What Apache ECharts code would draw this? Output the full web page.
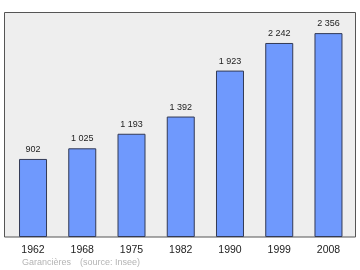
<!DOCTYPE html>
<html><head><meta charset="utf-8">
<script src="https://cdn.jsdelivr.net/npm/echarts@6/dist/echarts.min.js"></script>
<style>html,body{margin:0;padding:0;background:#fff}#c{width:360px;height:270px}</style>
</head><body><div id="c"></div>
<script>
const years = ['1962','1968','1975','1982','1990','1999','2008'];
const population = [902, 1025, 1193, 1392, 1923, 2242, 2356];
const valueLabels = ['902','1 025','1 193','1 392','1 923','2 242','2 356'];
const footerPlace = 'Garancières';
const footerSource = '(source: Insee)';

const chart = echarts.init(document.getElementById('c'), null, {renderer:'canvas'});
chart.setOption({
  animation:false,
  backgroundColor:'#ffffff',
  textStyle:{fontFamily:'Liberation Sans, Arial, sans-serif'},
  graphic:[
    {type:'rect', z:0, shape:{x:4.5,y:12.5,width:351,height:224.5},
     style:{fill:'#eeeeee', stroke:'#555555', lineWidth:1}},
    {type:'text', left:22, top:258, style:{text:footerPlace, fill:'#b4b4b4', font:'9px Liberation Sans, Arial, sans-serif'}},
    {type:'text', left:80, top:258, style:{text:footerSource, fill:'#b4b4b4', font:'9px Liberation Sans, Arial, sans-serif'}}
  ],
  grid:{left:8.4, top:12, width:344.7, height:225, show:false},
  xAxis:{type:'category', data:years, axisLine:{show:false}, axisTick:{show:false},
    axisLabel:{fontSize:10.5, color:'#222', margin:7.5, fontFamily:'Liberation Sans, Arial, sans-serif'}},
  yAxis:{type:'value', min:0, max:2600, show:false, splitLine:{show:false}},
  series:[{
    type:'bar', data:population, barWidth:28, z:2,
    itemStyle:{color:'#6f99fd', borderColor:'#333a55', borderWidth:1},
    label:{show:true, position:'top', distance:5, fontSize:9, color:'#222',
      fontFamily:'Liberation Sans, Arial, sans-serif',
      formatter:p=>valueLabels[p.dataIndex]}
  }]
});
</script></body></html>
